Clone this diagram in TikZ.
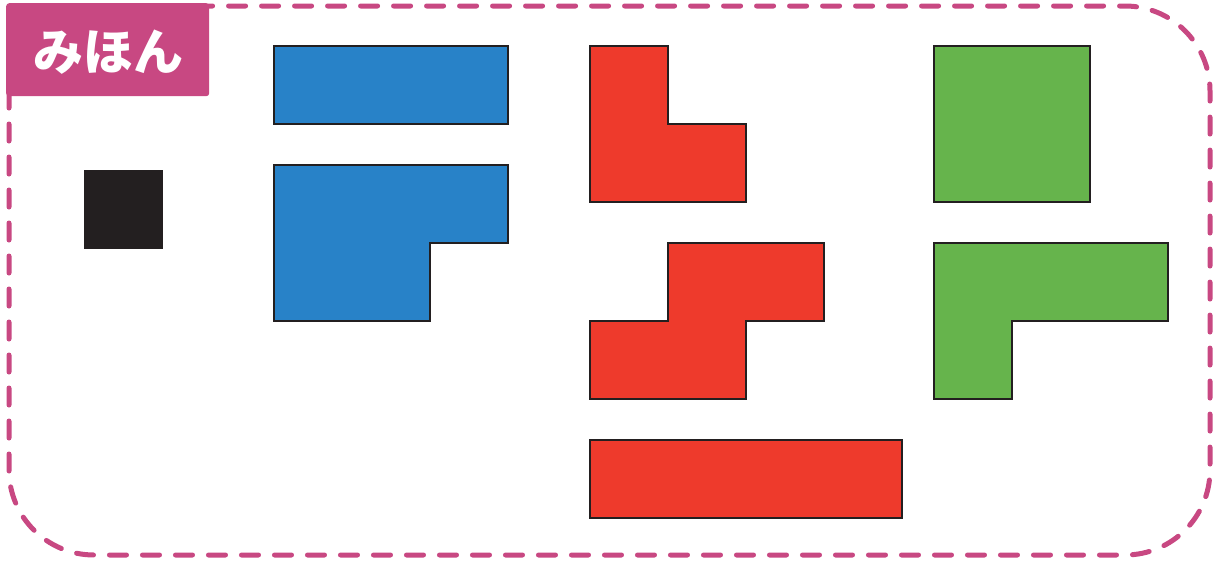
\documentclass[tikz,border=0pt]{standalone}
\usepackage{fontspec}
\newfontfamily\cjk{Noto Sans CJK JP}
\definecolor{mag}{HTML}{C84882}
\definecolor{pblue}{HTML}{2882C8}
\definecolor{pred}{HTML}{EE3A2C}
\definecolor{pgreen}{HTML}{66B44C}
\definecolor{pblack}{HTML}{231F20}
\tikzset{
  piece/.style={draw=pblack, line width=2pt, line join=miter},
  border/.style={draw=mag, line width=5pt, line cap=round, dash pattern=on 17pt off 16pt, rounded corners=85pt},
}
\begin{document}
\begin{tikzpicture}[x=1pt,y=-1pt]
\useasboundingbox (0,0) rectangle (1215,560);
% dashed border
\draw[border] (9,6) rectangle (1210,555);
% label
\node[fill=mag, rounded corners=3pt, minimum width=203pt, minimum height=93pt, anchor=north west, inner sep=0pt] (lbl) at (6,3) {};
\node[text=white, font=\cjk\bfseries\fontsize{50}{54}\selectfont] (lbltxt) at (108,52) {みほん};
% black square
\fill[pblack] (84,170) rectangle (163,249);
% blue pieces
\filldraw[piece, fill=pblue] (274,46) rectangle (508,124);
\filldraw[piece, fill=pblue] (274,165) -- (508,165) -- (508,243) -- (430,243) -- (430,321) -- (274,321) -- cycle;
% red pieces
\filldraw[piece, fill=pred] (590,46) -- (668,46) -- (668,124) -- (746,124) -- (746,202) -- (590,202) -- cycle;
\filldraw[piece, fill=pred] (668,243) -- (824,243) -- (824,321) -- (746,321) -- (746,399) -- (590,399) -- (590,321) -- (668,321) -- cycle;
\filldraw[piece, fill=pred] (590,440) rectangle (902,518);
% green pieces
\filldraw[piece, fill=pgreen] (934,46) rectangle (1090,202);
\filldraw[piece, fill=pgreen] (934,243) -- (1168,243) -- (1168,321) -- (1012,321) -- (1012,399) -- (934,399) -- cycle;
\end{tikzpicture}
\end{document}
